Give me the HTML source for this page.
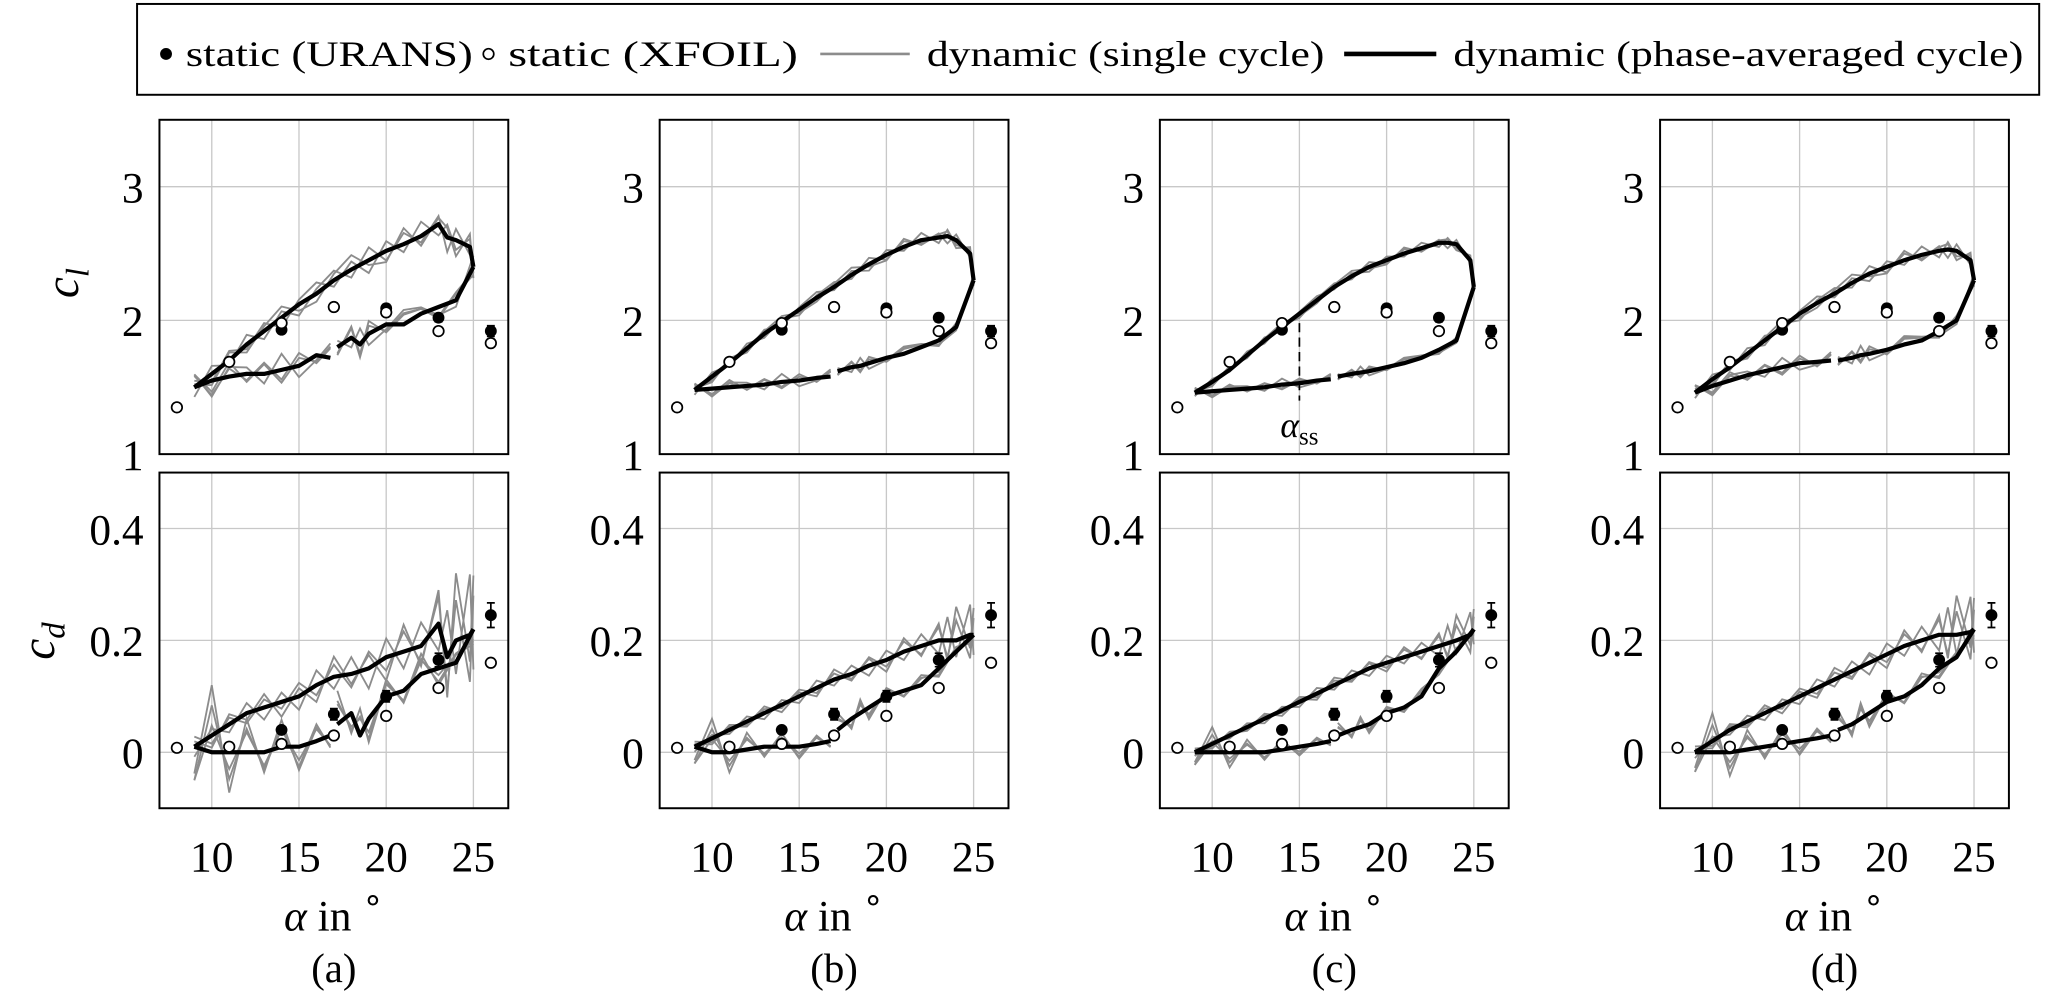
<!DOCTYPE html>
<html><head><meta charset="utf-8">
<style>
html,body{margin:0;padding:0;background:#fff;}
svg{display:block;}
text{font-family:"Liberation Serif",serif;fill:#000;}
</style></head>
<body>
<svg id="fig" width="2067" height="1007" viewBox="0 0 1568 765" xmlns="http://www.w3.org/2000/svg">
<g>
<rect x="103" y="3" width="1445" height="69" fill="#fff" stroke="#000" stroke-width="1.5"/>
<circle cx="125" cy="41" r="4.5" fill="#000"/>
<text x="140" y="50" font-size="27" textLength="218" lengthAdjust="spacingAndGlyphs">static (URANS)</text>
<circle cx="370" cy="41" r="4" fill="#fff" stroke="#000" stroke-width="1.3"/>
<text x="385" y="50" font-size="27" textLength="220" lengthAdjust="spacingAndGlyphs">static (XFOIL)</text>
<line x1="622" y1="41" x2="690" y2="41" stroke="#8c8c8c" stroke-width="2"/>
<text x="703" y="50" font-size="27" textLength="302" lengthAdjust="spacingAndGlyphs">dynamic (single cycle)</text>
<line x1="1020" y1="41" x2="1090" y2="41" stroke="#000" stroke-width="3.5"/>
<text x="1103" y="50" font-size="27" textLength="433" lengthAdjust="spacingAndGlyphs">dynamic (phase-averaged cycle)</text>
</g>
</svg>
<script>
// ---------- data ----------
const xTicks = [10, 15, 20, 25];
const clTicks = [1, 2, 3];
const cdTicks = [0, 0.2, 0.4];
const cdTickLabels = ["0", "0.2", "0.4"];
const panelLabels = ["(a)", "(b)", "(c)", "(d)"];

const staticUransAlpha = [14, 17, 20, 23, 26];
const staticUransCl = [1.93, 2.10, 2.09, 2.02, 1.92];
const staticUransClErr = [0.02, 0.03, 0.03, 0.03, 0.04];
const staticUransCd = [0.040, 0.068, 0.100, 0.165, 0.245];
const staticUransCdErr = [0.004, 0.010, 0.010, 0.012, 0.022];
const staticXfoilAlpha = [8, 11, 14, 17, 20, 23, 26];
const staticXfoilCl = [1.35, 1.69, 1.98, 2.10, 2.06, 1.92, 1.83];
const staticXfoilCd = [0.008, 0.010, 0.015, 0.030, 0.065, 0.115, 0.160];

const upAlpha = [9, 10, 11, 12, 13, 14, 15, 16, 17, 18, 19, 20, 21, 22, 23, 23.5, 24, 24.8, 25];
const clUpA = [1.50,1.60,1.70,1.82,1.92,2.02,2.12,2.20,2.30,2.38,2.45,2.52,2.57,2.63,2.72,2.62,2.60,2.55,2.40];
const clUpB = [1.48,1.58,1.68,1.79,1.90,1.99,2.08,2.17,2.25,2.34,2.42,2.49,2.55,2.60,2.62,2.63,2.60,2.50,2.30];
const clUpC = [1.46,1.54,1.63,1.74,1.85,1.95,2.05,2.15,2.25,2.33,2.40,2.45,2.50,2.54,2.58,2.58,2.57,2.45,2.25];
const clUpD = [1.46,1.56,1.65,1.75,1.85,1.95,2.05,2.13,2.20,2.28,2.35,2.40,2.45,2.49,2.52,2.53,2.52,2.45,2.30];
const cdUpA = [0.01,0.03,0.05,0.07,0.08,0.09,0.10,0.12,0.135,0.14,0.15,0.17,0.18,0.19,0.23,0.17,0.20,0.21,0.22];
const cdUpB = [0.01,0.025,0.04,0.055,0.07,0.085,0.10,0.115,0.13,0.14,0.155,0.165,0.18,0.19,0.20,0.20,0.20,0.21,0.21];
const cdUpC = [0.00,0.015,0.03,0.045,0.06,0.075,0.09,0.105,0.12,0.135,0.15,0.16,0.17,0.18,0.19,0.195,0.20,0.21,0.22];
const cdUpD = [0.00,0.02,0.04,0.055,0.07,0.085,0.10,0.115,0.13,0.145,0.16,0.175,0.19,0.20,0.21,0.21,0.21,0.215,0.22];

const downAlpha1 = [25, 24, 23, 22, 21, 20, 19, 18.5, 18, 17.2];
const downAlpha2 = [16.8, 16, 15, 14, 13, 12, 11, 10, 9];
const clDn1A = [2.40,2.15,2.10,2.05,1.97,1.97,1.90,1.82,1.87,1.80];
const clDn2A = [1.72,1.74,1.66,1.63,1.60,1.60,1.58,1.55,1.50];
const clDn1B = [2.30,1.95,1.85,1.80,1.75,1.72,1.68,1.66,1.65,1.62];
const clDn2B = [1.58,1.57,1.55,1.54,1.52,1.51,1.50,1.49,1.48];
const clDn1C = [2.25,1.85,1.78,1.72,1.68,1.65,1.62,1.61,1.60,1.58];
const clDn2C = [1.56,1.55,1.53,1.52,1.50,1.49,1.48,1.47,1.46];
const clDn1D = [2.30,2.00,1.92,1.85,1.82,1.78,1.75,1.74,1.72,1.70];
const clDn2D = [1.70,1.69,1.68,1.65,1.62,1.59,1.55,1.51,1.46];
const cdDn1A = [0.22,0.16,0.15,0.14,0.11,0.10,0.06,0.03,0.07,0.05];
const cdDn2A = [0.03,0.02,0.01,0.01,0.00,0.00,0.00,0.00,0.01];
const cdDn1B = [0.21,0.18,0.15,0.12,0.11,0.10,0.08,0.07,0.06,0.04];
const cdDn2B = [0.02,0.015,0.01,0.01,0.01,0.005,0.00,0.00,0.01];
const cdDn1C = [0.22,0.18,0.15,0.10,0.08,0.07,0.05,0.045,0.04,0.03];
const cdDn2C = [0.02,0.015,0.01,0.005,0.00,0.00,0.00,0.00,0.00];
const cdDn1D = [0.22,0.17,0.15,0.12,0.10,0.09,0.07,0.06,0.05,0.04];
const cdDn2D = [0.03,0.025,0.02,0.015,0.01,0.005,0.00,0.00,0.00];

const devCl1 = [0.04,-0.05,0.06,-0.03,0.05,-0.06,0.03,0.07,-0.04,0.05,-0.08,0.06,-0.05,0.09,-0.07,0.08,-0.06,0.05,-0.04];
const devCl2 = [-0.06,0.05,-0.03,0.06,-0.05,0.04,-0.07,0.03,0.06,-0.05,0.08,-0.06,0.07,-0.04,0.05,-0.09,0.07,-0.05,0.06];
const devCl3 = [0.02,-0.07,0.05,-0.05,0.03,0.07,-0.04,-0.05,0.04,0.09,-0.03,-0.07,0.1,-0.06,0.04,0.06,-0.1,0.08,-0.07];
const devCd1 = [0.015,-0.012,0.01,-0.015,0.012,-0.01,0.02,-0.015,0.018,-0.02,0.025,-0.02,0.03,-0.025,0.04,-0.05,0.06,-0.07,0.05];
const devCd2 = [-0.015,0.01,-0.012,0.015,-0.018,0.014,-0.02,0.022,-0.018,0.025,-0.03,0.028,-0.025,0.035,-0.04,0.07,-0.05,0.09,-0.06];
const devCd3 = [0.008,-0.018,0.015,-0.01,0.02,-0.022,0.012,-0.025,0.03,-0.015,0.02,-0.035,0.04,-0.03,0.05,-0.06,0.1,-0.04,0.08];
const noiseScale = [1.2, 0.6, 0.45, 0.7];

const panelsCl = [[clUpA,clDn1A,clDn2A],[clUpB,clDn1B,clDn2B],[clUpC,clDn1C,clDn2C],[clUpD,clDn1D,clDn2D]];
const panelsCd = [[cdUpA,cdDn1A,cdDn2A],[cdUpB,cdDn1B,cdDn2B],[cdUpC,cdDn1C,cdDn2C],[cdUpD,cdDn1D,cdDn2D]];

// ---------- drawing ----------
const NS = "http://www.w3.org/2000/svg";
const svg = document.getElementById("fig");
function el(tag, attrs, parent) {
  const e = document.createElementNS(NS, tag);
  for (const k in attrs) e.setAttribute(k, attrs[k]);
  (parent || svg).appendChild(e);
  return e;
}
const PW = 265, X0 = 120, DX = 380;
const TOP = {y0: 91, y1: 345, min: 1, max: 3.5};
const BOT = {y0: 359, y1: 614, min: -0.1, max: 0.5};

function makeX(px) { return a => px + (a - 7) / 20 * PW; }
function makeY(s) { return v => s.y1 - (v - s.min) / (s.max - s.min) * (s.y1 - s.y0); }
function poly(xs, ys, sx, sy) { return xs.map((a, i) => sx(a).toFixed(2) + "," + sy(ys[i]).toFixed(2)).join(" "); }

function drawAxes(g, px, s, ticks, sx, sy) {
  const clipId = "clip" + px + "_" + s.y0;
  const cp = el("clipPath", {id: clipId}, g);
  el("rect", {x: px, y: s.y0, width: PW, height: s.y1 - s.y0}, cp);
  xTicks.forEach(t => {
    const gl = el("line", {x1: sx(t), x2: sx(t), y1: s.y0, y2: s.y1, stroke: "#c8c8c8", "stroke-width": 1}, g);
    
    
  });
  ticks.forEach(t => {
    const gl = el("line", {x1: px, x2: px + PW, y1: sy(t), y2: sy(t), stroke: "#c8c8c8", "stroke-width": 1}, g);
    
    
  });
  return clipId;
}

function drawSeries(g, clipId, sx, sy, up, dn1, dn2, devs, ns, lo, hi) {
  const sg = el("g", {"clip-path": "url(#" + clipId + ")"}, g);
  devs.forEach((d, k) => {
    const f = (arr, off) => arr.map((v, i) => Math.min(hi, Math.max(lo, v + d[(i + off) % d.length] * ns)));
    const l1 = el("polyline", {points: poly(upAlpha, f(up, 0), sx, sy), fill: "none", stroke: "#8c8c8c", "stroke-width": 1.4}, sg);
    
    
    const l2 = el("polyline", {points: poly(downAlpha1, f(dn1, 3 + k), sx, sy), fill: "none", stroke: "#8c8c8c", "stroke-width": 1.4}, sg);
    
    
    const l3 = el("polyline", {points: poly(downAlpha2, f(dn2, 7 + k), sx, sy), fill: "none", stroke: "#8c8c8c", "stroke-width": 1.4}, sg);
    
    
  });
  [[upAlpha, up], [downAlpha1, dn1], [downAlpha2, dn2]].forEach(p => {
    const l = el("polyline", {points: poly(p[0], p[1], sx, sy), fill: "none", stroke: "#000", "stroke-width": 3.2, "stroke-linejoin": "round"}, sg);
    
    
  });
}

function drawStatic(g, sx, sy, ua, uv, ue, xa, xv) {
  ua.forEach((a, i) => {
    const eb = el("path", {d: `M${sx(a)-3},${sy(uv[i]+ue[i])}h6M${sx(a)},${sy(uv[i]+ue[i])}V${sy(uv[i]-ue[i])}M${sx(a)-3},${sy(uv[i]-ue[i])}h6`, stroke: "#000", "stroke-width": 1.3, fill: "none"}, g);
    
    
    const c = el("circle", {cx: sx(a), cy: sy(uv[i]), r: 4.5, fill: "#000"}, g);
    
    
  });
  xa.forEach((a, i) => {
    const c = el("circle", {cx: sx(a), cy: sy(xv[i]), r: 4, fill: "#fff", stroke: "#000", "stroke-width": 1.3}, g);
    
    
  });
}

function frame(g, px, s) {
  const r = el("rect", {x: px, y: s.y0, width: PW, height: s.y1 - s.y0, fill: "none", stroke: "#000", "stroke-width": 1.5}, g);
  
  
}

for (let p = 0; p < 4; p++) {
  const px = X0 + p * DX;
  const sx = makeX(px);
  const g = el("g", {});
  
  

  const syT = makeY(TOP);
  const c1 = drawAxes(g, px, TOP, clTicks, sx, syT);
  drawSeries(g, c1, sx, syT, panelsCl[p][0], panelsCl[p][1], panelsCl[p][2], [devCl1, devCl2, devCl3], noiseScale[p], 1.0, 3.5);
  drawStatic(g, sx, syT, staticUransAlpha, staticUransCl, staticUransClErr, staticXfoilAlpha, staticXfoilCl);
  frame(g, px, TOP);
  clTicks.forEach(t => {
    const tx = el("text", {x: px - 12, y: syT(t) + 12, "font-size": 33, "text-anchor": "end"}, g);
    tx.textContent = String(t);
    
    
  });

  const syB = makeY(BOT);
  const c2 = drawAxes(g, px, BOT, cdTicks, sx, syB);
  drawSeries(g, c2, sx, syB, panelsCd[p][0], panelsCd[p][1], panelsCd[p][2], [devCd1, devCd2, devCd3], noiseScale[p], -0.1, 0.5);
  drawStatic(g, sx, syB, staticUransAlpha, staticUransCd, staticUransCdErr, staticXfoilAlpha, staticXfoilCd);
  frame(g, px, BOT);
  cdTicks.forEach((t, i) => {
    const tx = el("text", {x: px - 12, y: syB(t) + 12, "font-size": 33, "text-anchor": "end"}, g);
    tx.textContent = cdTickLabels[i];
    
    
  });
  xTicks.forEach(t => {
    const tx = el("text", {x: sx(t), y: 662, "font-size": 33, "text-anchor": "middle"}, g);
    tx.textContent = String(t);
    
    
  });
  const xl = el("text", {x: px + PW / 2, y: 707, "font-size": 33, "text-anchor": "middle"}, g);
  xl.innerHTML = '<tspan font-style="italic">α</tspan> in <tspan dy="-15" font-size="26">∘</tspan>';
  
  
  const pl = el("text", {x: px + PW / 2, y: 746, "font-size": 31, "text-anchor": "middle"}, g);
  pl.textContent = panelLabels[p];
  
  

  if (p === 2) {
    const dl = el("line", {x1: sx(15), x2: sx(15), y1: syT(1.98), y2: syT(1.4), stroke: "#000", "stroke-width": 1.3, "stroke-dasharray": "7,4"}, g);
    
    
    const at = el("text", {x: sx(15), y: syT(1.13), "font-size": 27, "text-anchor": "middle"}, g);
    at.innerHTML = '<tspan font-style="italic">α</tspan><tspan dy="6" font-size="19">ss</tspan>';
    
    
  }
}

const yl1 = el("text", {x: 0, y: 0, "font-size": 36, "font-style": "italic", "text-anchor": "middle", transform: "translate(58,215) rotate(-90)"});
yl1.innerHTML = 'c<tspan dy="8" font-size="25">l</tspan>';


const yl2 = el("text", {x: 0, y: 0, "font-size": 36, "font-style": "italic", "text-anchor": "middle", transform: "translate(40,487) rotate(-90)"});
yl2.innerHTML = 'c<tspan dy="8" font-size="25">d</tspan>';


</script>
</body></html>
